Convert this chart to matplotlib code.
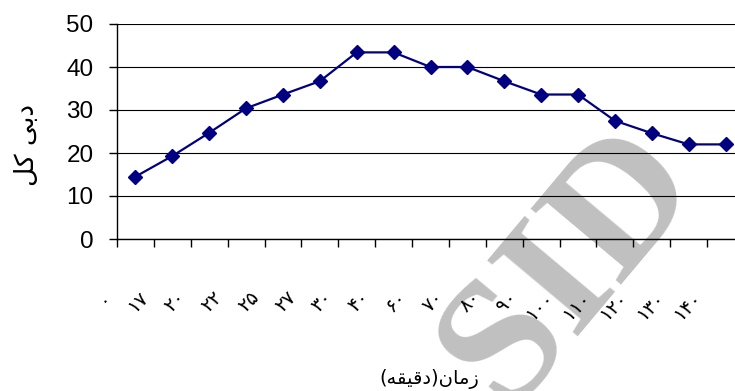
import matplotlib
matplotlib.use("Agg")
import matplotlib.pyplot as plt
import matplotlib.transforms as mtransforms
import numpy as np

plt.rcParams.update({
    "font.family": ["Liberation Sans", "DejaVu Sans"],
    "axes.linewidth": 1.0,
    "axes.spines.top": False,
    "axes.spines.right": False,
})

# ---------------------------------------------------------------------------
# Data
# ---------------------------------------------------------------------------
time_labels = ["۰", "۱۷", "۲۰", "۲۲", "۲۵", "۲۷", "۳۰", "۴۰", "۶۰",
               "۷۰", "۸۰", "۹۰", "۱۰۰", "۱۱۰", "۱۲۰", "۱۳۰", "۱۴۰"]
flow = [14.5, 19.3, 24.7, 30.4, 33.6, 36.7, 43.4, 43.4, 40.0,
        40.0, 36.7, 33.6, 33.6, 27.5, 24.6, 22.0, 22.0]
y_ticks = [0, 10, 20, 30, 40, 50]

# Persian titles in visual (left-to-right) order, joined presentation forms,
# because matplotlib draws glyphs without bidi reordering or shaping
x_title = "(ﻪﻘﻴﻗﺩ)ﻥﺎﻣﺯ"   # زمان(دقیقه)
y_title = "ﻞﮐ ﻰﺑﺩ"        # دبی کل

# ---------------------------------------------------------------------------
# Figure
# ---------------------------------------------------------------------------
fig = plt.figure(figsize=(7.35, 3.91), dpi=100, facecolor="white")
ax = fig.add_axes([117 / 735, 152 / 391, 627 / 735, 215 / 391])
ax.patch.set_alpha(0)

# watermark
fig.text(570 / 735, 1 - 266 / 391, "SID", fontsize=130,
         family="Liberation Serif", weight="bold", color="#c0c0c0",
         rotation=50, ha="center", va="center", rotation_mode="anchor",
         zorder=-1)

x = np.arange(len(flow))
ax.plot(x, flow, color="#000080", lw=1.6, marker="D", ms=7,
        zorder=3, clip_on=False)

ax.set_xlim(-0.5, len(flow) - 0.5)
ax.set_ylim(0, 50)
ax.set_yticks(y_ticks)
ax.yaxis.grid(True, color="black", lw=0.8)
ax.set_axisbelow(True)
ax.tick_params(axis="y", length=6, width=1, labelsize=17.5, pad=11)

ax.set_xticks(x)
ax.set_xticklabels(time_labels, rotation=45, ha="right", va="center",
                   rotation_mode="anchor", fontsize=14, family="DejaVu Sans")
ax.set_xticks(np.arange(-0.5, len(flow)), minor=True)
ax.tick_params(axis="x", which="major", length=0, pad=40)
ax.tick_params(axis="x", which="minor", length=6, width=1)

offset = mtransforms.ScaledTranslation(-0.27, 0, fig.dpi_scale_trans)
for lbl in ax.get_xticklabels():
    lbl.set_transform(lbl.get_transform() + offset)

# axis titles
fig.text(429 / 735, 1 - 379 / 391, x_title, fontsize=14,
         family="DejaVu Sans", ha="center", va="center")
fig.text(27 / 735, 1 - 145 / 391, y_title, fontsize=19,
         family="DejaVu Sans", ha="center", va="center", rotation=90)

plt.savefig("out.png", dpi=100, facecolor="white")
plt.close()
